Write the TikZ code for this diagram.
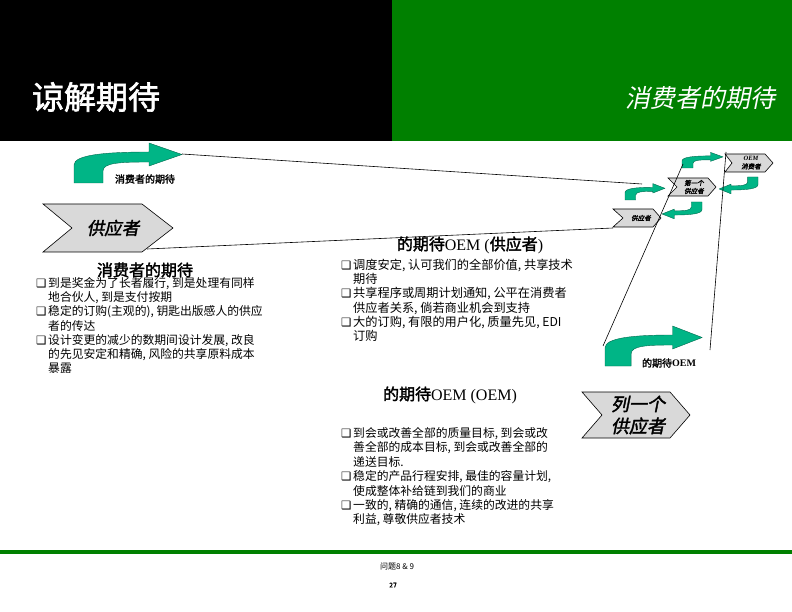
\documentclass[tikz,border=0pt]{standalone}
\usepackage{fontspec}
\setmainfont{Liberation Serif}
\newfontfamily\cjk[AutoFakeBold=2,AutoFakeSlant=0.2]{Noto Sans CJK SC}
\newfontfamily\dvs{DejaVu Sans}
\definecolor{hdrgreen}{RGB}{0,128,0}
\definecolor{arrowteal}{RGB}{0,181,134}
\definecolor{arrowedge}{RGB}{0,105,78}
\definecolor{chevgray}{RGB}{217,217,217}
\newcommand\mychev[6]{\path[chevron] (#1,#2) -- (#3,#2) -- (#5,{(#2+#4)/2}) -- (#3,#4) -- (#1,#4) -- (#6,{(#2+#4)/2}) -- cycle;}
\newcommand\mycurvarr[1]{\path[arrowfill,#1] (0,0) -- (0,-18) .. controls (0,-28) and (30,-31) .. (75,-31) -- (75,-40) -- (108,-28.5) -- (75,-17) -- (75,-21) .. controls (45,-21) and (29,-20) .. (29,-12) -- (29,0) -- cycle;}
\tikzset{
 arrowfill/.style={fill=arrowteal, draw=arrowedge, line width=0.4pt, line join=round},
 chevron/.style={fill=chevgray, draw=black, line width=0.6pt},
 conn/.style={draw=black, line width=0.6pt},
 bodyL/.style={font=\cjk\fontsize{11.8}{14}\selectfont, anchor=base west, inner sep=0pt},
 bodyM/.style={font=\cjk\fontsize{12.2}{14}\selectfont, anchor=base west, inner sep=0pt},
 chk/.style={font=\dvs\fontsize{11.5}{12}\selectfont, anchor=base west, inner sep=0pt},
 headtxt/.style={font=\cjk\bfseries\fontsize{16}{19}\selectfont, inner sep=0pt},
 tinytxt/.style={font=\cjk\bfseries\itshape\fontsize{6.5}{8}\selectfont, align=center, inner sep=0pt},
}
\begin{document}
\begin{tikzpicture}[x=1pt,y=-1pt]
\useasboundingbox (0,0) rectangle (792,612);
% header
\fill[black] (0,0) rectangle (392,141);
\fill[hdrgreen] (392,0) rectangle (792,141);
\node[text=white, font=\cjk\bfseries\fontsize{32}{36}\selectfont, inner sep=0pt] (title) at (96,97) {谅解期待};
\node[text=white, font=\cjk\itshape\fontsize{25}{28}\selectfont, inner sep=0pt] (subtitle) at (700,98) {消费者的期待};
% footer
\fill[hdrgreen] (0,550) rectangle (792,554);
\node[font=\cjk\fontsize{8}{10}\selectfont, inner sep=0pt] (foot1) at (397,567) {问题8 \& 9};
\node[font=\cjk\bfseries\fontsize{6.5}{8}\selectfont, inner sep=0pt] (foot2) at (393,585) {27};

% chevrons
\mychev{43}{204}{142}{252}{173}{72}
\node[font=\cjk\bfseries\itshape\fontsize{17.5}{20}\selectfont, inner sep=0pt] (sup) at (113,228) {供应者};
\mychev{613}{209}{653}{227}{661}{623}
\node[tinytxt] (s1) at (641,218) {供应者};
\mychev{668}{178}{708}{196}{716}{677}
\node[tinytxt] (s2) at (694,187) {第一个\\供应者};
\mychev{725}{154}{765}{172}{773}{732}
\node[tinytxt] (s3) at (751,163) {{\rmfamily\itshape OEM}\\消费者};
\mychev{582}{392}{670}{438}{690}{602}
\node[font=\cjk\bfseries\itshape\fontsize{18}{22}\selectfont, align=center, inner sep=0pt] (first) at (638,415) {列一个\\供应者};

% curved arrows
\mycurvarr{shift={(74,183)}}
\mycurvarr{shift={(605,366)},xscale=0.9}
\mycurvarr{shift={(625,200)},xscale=0.37,yscale=0.41}
\mycurvarr{shift={(682,168)},xscale=0.38,yscale=0.39}
\mycurvarr{shift={(702,202)},rotate=180,xscale=0.37,yscale=0.42}
\mycurvarr{shift={(758,177)},rotate=180,xscale=0.36,yscale=0.42}

\node[font=\cjk\bfseries\fontsize{10}{12}\selectfont, inner sep=0pt] (lbl1) at (145,179) {消费者的期待};
\node[font=\cjk\bfseries\fontsize{10}{12}\selectfont, inner sep=0pt] (lbl2) at (669,363) {的期待{\rmfamily\bfseries OEM}};

% connectors
\coordinate (ta) at (182,154);
\coordinate (te) at (642,184);
\coordinate (ba) at (147,249);
\coordinate (be) at (613,228);
\coordinate (fa1) at (603,346);
\coordinate (fa2) at (683,164);
\coordinate (fb1) at (710,350);
\coordinate (fb2) at (726,152);
\draw[conn] (ta) -- (te);
\draw[conn] (ba) -- (be);
\draw[conn] (fa1) -- (fa2);
\draw[conn] (fb1) -- (fb2);

% headings
\node[headtxt] (h1) at (145,270) {消费者的期待};
\node[headtxt] (h2) at (470,245) {的期待{\rmfamily\mdseries OEM (}供应者{\rmfamily\mdseries )}};
\node[headtxt] (h3) at (450,395) {的期待{\rmfamily\mdseries OEM (OEM)}};

% left block
\node[chk] (lc1) at (36,287.5) {❑};
\node[bodyL] (l1) at (48,287.5) {到是奖金为了长者履行, 到是处理有同样};
\node[bodyL] (l2) at (48,301.7) {地合伙人, 到是支付按期};
\node[chk] (lc2) at (36,315.9) {❑};
\node[bodyL] (l3) at (48,315.9) {稳定的订购(主观的), 钥匙出版感人的供应};
\node[bodyL] (l4) at (48,330.1) {者的传达};
\node[chk] (lc3) at (36,344.3) {❑};
\node[bodyL] (l5) at (48,344.3) {设计变更的减少的数期间设计发展, 改良};
\node[bodyL] (l6) at (48,358.5) {的先见安定和精确, 风险的共享原料成本};
\node[bodyL] (l7) at (48,372.7) {暴露};

% middle block
\node[chk] (mc1) at (341,269.4) {❑};
\node[bodyM] (m1) at (353,269.4) {调度安定, 认可我们的全部价值, 共享技术};
\node[bodyM] (m2) at (353,283.6) {期待};
\node[chk] (mc2) at (341,297.8) {❑};
\node[bodyM] (m3) at (353,297.8) {共享程序或周期计划通知, 公平在消费者};
\node[bodyM] (m4) at (353,312.0) {供应者关系, 倘若商业机会到支持};
\node[chk] (mc3) at (341,326.2) {❑};
\node[bodyM] (m5) at (353,326.2) {大的订购, 有限的用户化, 质量先见, EDI};
\node[bodyM] (m6) at (353,340.4) {订购};

% third block
\node[chk] (bc1) at (341,437.4) {❑};
\node[bodyL] (b1) at (353,437.4) {到会或改善全部的质量目标, 到会或改};
\node[bodyL] (b2) at (353,451.8) {善全部的成本目标, 到会或改善全部的};
\node[bodyL] (b3) at (353,466.2) {递送目标.};
\node[chk] (bc2) at (341,480.6) {❑};
\node[bodyL] (b4) at (353,480.6) {稳定的产品行程安排, 最佳的容量计划,};
\node[bodyL] (b5) at (353,495.0) {使成整体补给链到我们的商业};
\node[chk] (bc3) at (341,509.4) {❑};
\node[bodyL] (b6) at (353,509.4) {一致的, 精确的通信, 连续的改进的共享};
\node[bodyL] (b7) at (353,523.8) {利益, 尊敬供应者技术};
\end{tikzpicture}
\end{document}
